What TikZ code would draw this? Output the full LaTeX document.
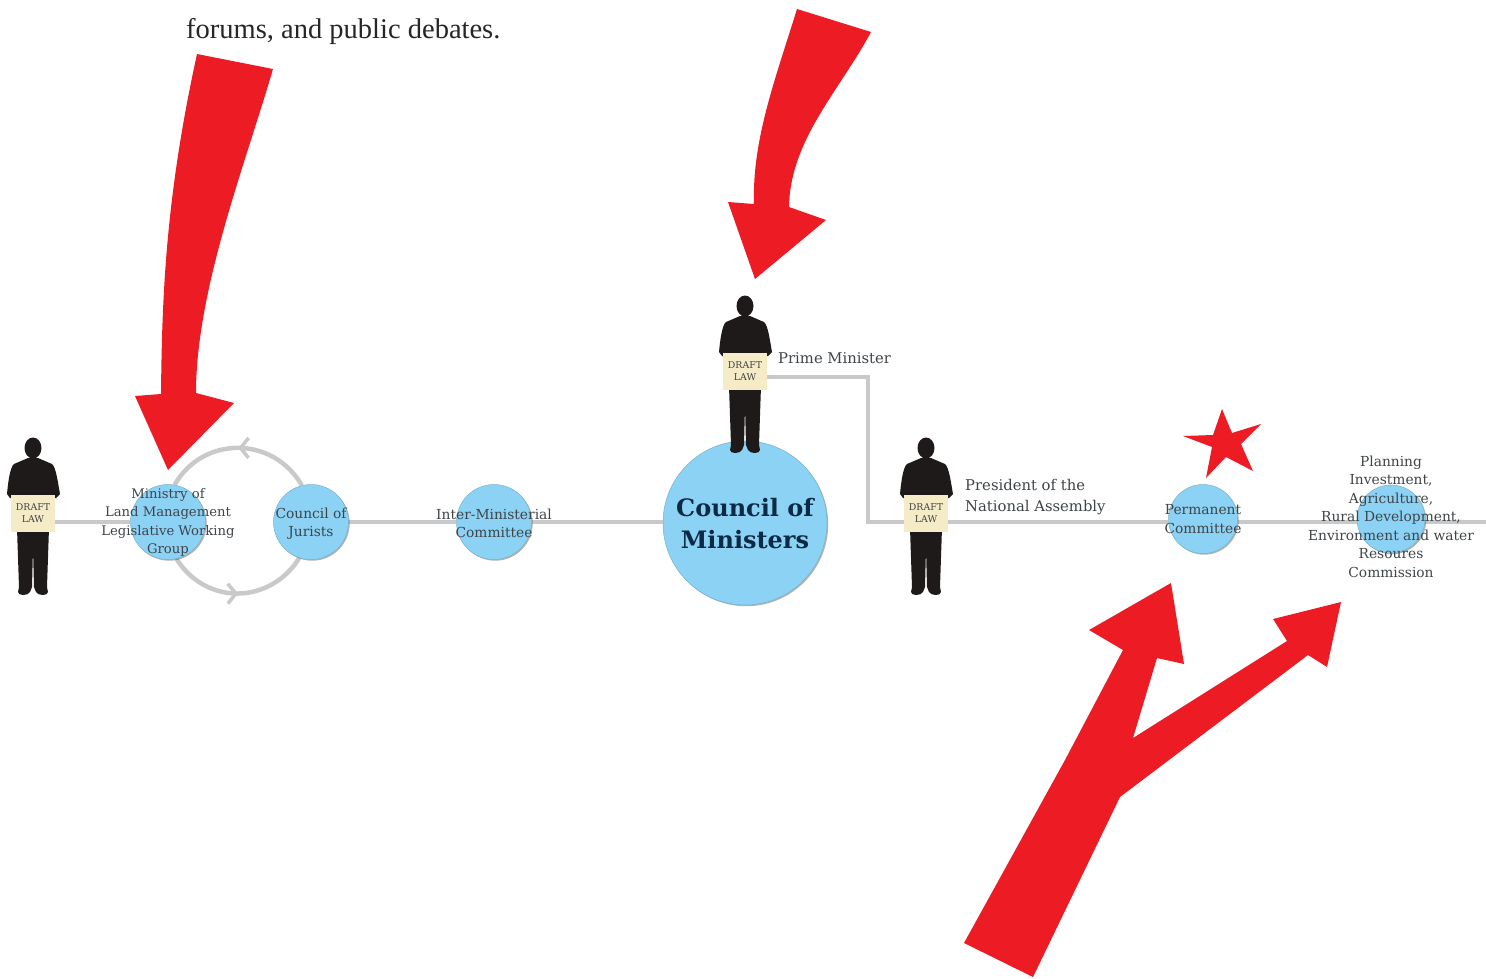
\documentclass[tikz,border=0pt]{standalone}
\usepackage{fontspec}
\setmainfont{DejaVu Serif}
\newfontfamily\pagefont{Liberation Serif}
\usetikzlibrary{arrows.meta,positioning,backgrounds,shadows,decorations.markings}

\definecolor{flagred}{HTML}{ED1C24}
\definecolor{bubble}{HTML}{8CD2F4}
\definecolor{wire}{HTML}{C9C9C9}
\definecolor{paper}{HTML}{F5EBC6}
\definecolor{silhouette}{HTML}{1E1A19}
\definecolor{caption}{HTML}{3F4448}
\definecolor{heading}{HTML}{0C2A45}

\tikzset{
	bubblenode/.style={circle,fill=bubble,draw=bubble!85!black,line width=.5pt,inner sep=0pt,minimum size=#1,
		drop shadow={shadow xshift=1.2pt,shadow yshift=-1.2pt,fill=black,opacity=.3}},
	captionnode/.style={text=caption,align=center,inner sep=0pt,font=\fontsize{13.8}{18.5}\selectfont},
	wireline/.style={draw=wire,line width=4.5pt},
	flowmark/.style={postaction={decorate,decoration={markings,
		mark=at position .5 with {\arrow[wire,line width=3.5pt]{Straight Barb[length=8pt,width=20pt]}}}}},
	redshape/.style={fill=flagred,draw=none},
	person/.pic={
		\begin{scope}[yscale=-1]
		\fill[silhouette] (0,-65) ellipse (8.5 and 10.5);
		\fill[silhouette] (-5,-55) -- (-19,-49) .. controls (-23,-46) and (-25,-30) .. (-26,-19)
			-- (-23,-15) -- (23,-15) -- (27,-19) .. controls (25,-30) and (23,-46) .. (19,-49) -- (5,-55) -- cycle;
		\fill[silhouette] (-16,15) -- (-14,74) -- (-15,79) .. controls (-15,83) and (-5,83) .. (-3,79)
			-- (-1,74) -- (0,36) -- (1,74) -- (3,79) .. controls (5,83) and (15,83) .. (15,79)
			-- (14,74) -- (16,15) -- cycle;
		\end{scope}
		\node (sign) [fill=paper,minimum width=44pt,minimum height=37pt,inner sep=0pt,align=center,text=caption,
			font=\fontsize{9.4}{12.5}\selectfont] at (0,0) {DRAFT\\LAW};
	}
}

\begin{document}
\begin{tikzpicture}[x=1pt,y=1pt]
\useasboundingbox (0,-978) rectangle (1486,0);

\node (page) [anchor=base west,inner sep=0pt,font=\pagefont\fontsize{28.5}{30}\selectfont,text=black!85] at (186,-38) {forums, and public debates.};

\node (ministry) [bubblenode=75pt] at (168,-522) {};
\node (jurists) [bubblenode=75pt] at (311,-522) {};
\node (inter) [bubblenode=75pt] at (494,-522) {};
\node (ministers) [bubblenode=164pt] at (745,-523) {};
\node (permanent) [bubblenode=69pt] at (1203,-519) {};
\node (planning) [bubblenode=68pt] at (1391,-519) {};
\coordinate (rightend) at (1486,-522);

\pic (first) at (33,-513) {person};
\pic (pm) at (745,-371) {person};
\pic (president) at (926,-513) {person};

\node (ministrytext) [captionnode,font=\fontsize{13.2}{18.4}\selectfont] at (168,-522.5) {Ministry of\\Land Management\\Legislative Working\\Group};
\node (juriststext) [captionnode] at (311,-523.5) {Council of\\Jurists};
\node (intertext) [captionnode] at (494,-523.5) {Inter-Ministerial\\Committee};
\node (ministerstext) [align=center,inner sep=0pt,text=heading,font=\fontsize{24}{32}\selectfont\bfseries] at (745,-524) {Council of\\Ministers};
\node (pmtext) [captionnode,anchor=base west,font=\fontsize{14.8}{21}\selectfont] at (778,-363) {Prime Minister};
\node (presidenttext) [captionnode,anchor=west,align=left,font=\fontsize{14.8}{21}\selectfont] at (965,-497) {President of the\\National Assembly};
\node (permanenttext) [captionnode] at (1203,-519) {Permanent\\Committee};
\node (planningtext) [captionnode] at (1391,-516.5) {Planning\\Investment,\\Agriculture,\\Rural Development,\\Environment and water\\Resoures\\Commission};

\begin{scope}[on background layer]
\draw[wireline] (firstsign.east |- 0,-522) -- (ministry.west |- 0,-522);
\draw[wireline] (jurists) -- (inter);
\draw[wireline] (inter) -- (ministers.west |- inter);
\draw[wireline] (pmsign.east |- 0,-377) -| (868,-522) -- (presidentsign.west |- 0,-522);
\draw[wireline] (presidentsign.east |- 0,-522) -- (permanent.west |- 0,-522);
\draw[wireline] (permanent.east |- 0,-522) -- (planning.west |- 0,-522);
\draw[wireline] (planning.east |- 0,-522) -- (rightend);
\draw[wireline,flowmark] (ministry.-77) to[out=-58,in=-122,looseness=1.15] (jurists.-108);
\draw[wireline,flowmark] (jurists.104) to[out=120,in=60,looseness=1.15] (ministry.80);
\end{scope}

\fill[redshape] (197,-54) -- (273,-69) .. controls (245,-165) and (196,-290) .. (196,-393)
	-- (234,-403) -- (168,-470) -- (135,-396) -- (161,-394)
	.. controls (162,-300) and (165,-200) .. cycle;
\fill[redshape] (797,-9) -- (871,-32) .. controls (840,-90) and (790,-140) .. (789,-207)
	-- (826,-220) -- (755,-279) -- (728,-202) -- (754,-204)
	.. controls (752,-140) and (775,-80) .. cycle;
\fill[redshape] (964,-943) -- (1033,-977) -- (1120,-797) -- (1308,-655) -- (1327,-667) -- (1341,-602)
	-- (1273,-619) -- (1287,-641) -- (1133,-738) -- (1157,-658) -- (1184,-664) -- (1171,-583)
	-- (1089,-630) -- (1123,-650) -- (1065,-760) -- cycle;
\fill[redshape] (1222,-409) -- (1232,-433) -- (1261,-424) -- (1241,-444) -- (1253,-471)
	-- (1226,-457) -- (1206,-478) -- (1212,-447) -- (1183,-436) -- (1213,-435) -- cycle;
\end{tikzpicture}
\end{document}
